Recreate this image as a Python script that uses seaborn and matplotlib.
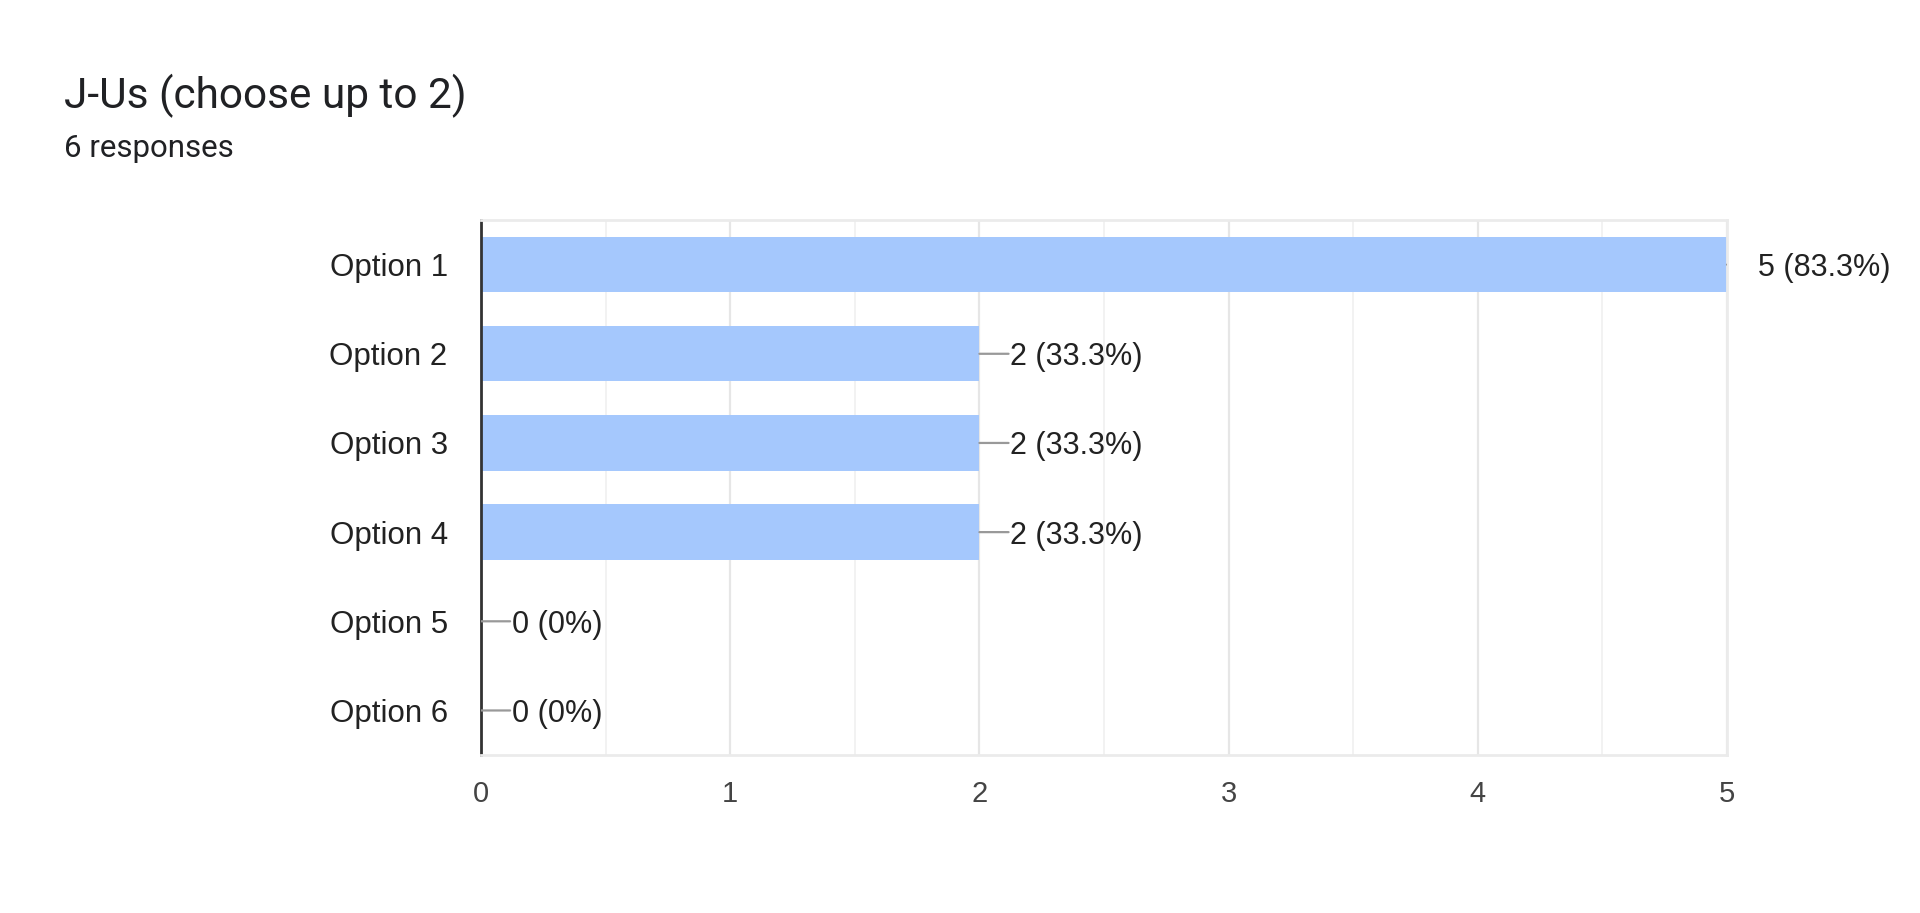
import matplotlib
matplotlib.use('Agg')
import matplotlib.pyplot as plt
import seaborn as sns
import pandas as pd
import numpy as np

# chart data
options = ['Option 1', 'Option 2', 'Option 3', 'Option 4', 'Option 5', 'Option 6']
counts = [5, 2, 2, 2, 0, 0]
total_responses = 6
x_ticks = [0, 1, 2, 3, 4, 5]

title = 'J-Us (choose up to 2)'
subtitle = '%d responses' % total_responses

bar_color = '#a5c8fd'
label_font = ['Liberation Sans', 'DejaVu Sans']


def value_label(c):
    pct = c / total_responses * 100
    if pct == int(pct):
        return '%d (%d%%)' % (c, int(pct))
    return '%d (%.1f%%)' % (c, pct)


sns.set_style('white')
plt.rcParams['font.family'] = ['Roboto', 'DejaVu Sans']

df = pd.DataFrame({'option': options, 'count': counts})

fig = plt.figure(figsize=(19.2, 9.13), dpi=100)
ax = fig.add_axes([0.2505, 0.173, 0.649, 0.586])

sns.barplot(data=df, x='count', y='option', color=bar_color, width=0.62,
            saturation=1, edgecolor='none', ax=ax)

ax.set_xlim(0, 5)
ax.set_ylim(len(options) - 0.5, -0.5)
ax.set_xticks(x_ticks)
ax.set_xticks(np.arange(0.5, 5, 1), minor=True)
ax.set_axisbelow(True)
ax.grid(which='major', axis='x', color='#e6e6e6', linewidth=1.6)
ax.grid(which='minor', axis='x', color='#f2f2f2', linewidth=1.4)
ax.grid(which='major', axis='y', visible=False)

ax.set_xlabel('')
ax.set_ylabel('')
ax.tick_params(axis='y', length=0, pad=24, labelsize=22.5, labelcolor='#222222')
ax.tick_params(axis='x', which='both', length=0, pad=18, labelsize=21, labelcolor='#444444')
for lbl in ax.get_yticklabels() + ax.get_xticklabels():
    lbl.set_family(label_font)

for side in ['top', 'right', 'bottom']:
    ax.spines[side].set_color('#ebebeb')
    ax.spines[side].set_linewidth(2)
ax.spines['left'].set_color('#333333')
ax.spines['left'].set_linewidth(2)

# value labels with short leader line (line clipped to plot area)
for i, c in enumerate(counts):
    line = ax.annotate('', xy=(c, i), xytext=(21, 0), textcoords='offset points',
                       annotation_clip=False,
                       arrowprops=dict(arrowstyle='-', color='#999999', lw=1.6,
                                       shrinkA=0, shrinkB=0))
    line.arrow_patch.set_clip_on(True)
    line.arrow_patch.set_clip_box(ax.bbox)
    ax.annotate(value_label(c), xy=(c, i), xytext=(22, 0),
                textcoords='offset points', ha='left', va='center_baseline',
                fontsize=22, color='#222222', family=label_font,
                annotation_clip=False)

fig.text(64 / 1920, 1 - 108 / 913, title, fontsize=30.5, color='#202124',
         ha='left', va='baseline')
fig.text(64 / 1920, 1 - 157 / 913, subtitle, fontsize=22.5, color='#202124',
         ha='left', va='baseline')

plt.savefig('out.png', dpi=100)
plt.close()
